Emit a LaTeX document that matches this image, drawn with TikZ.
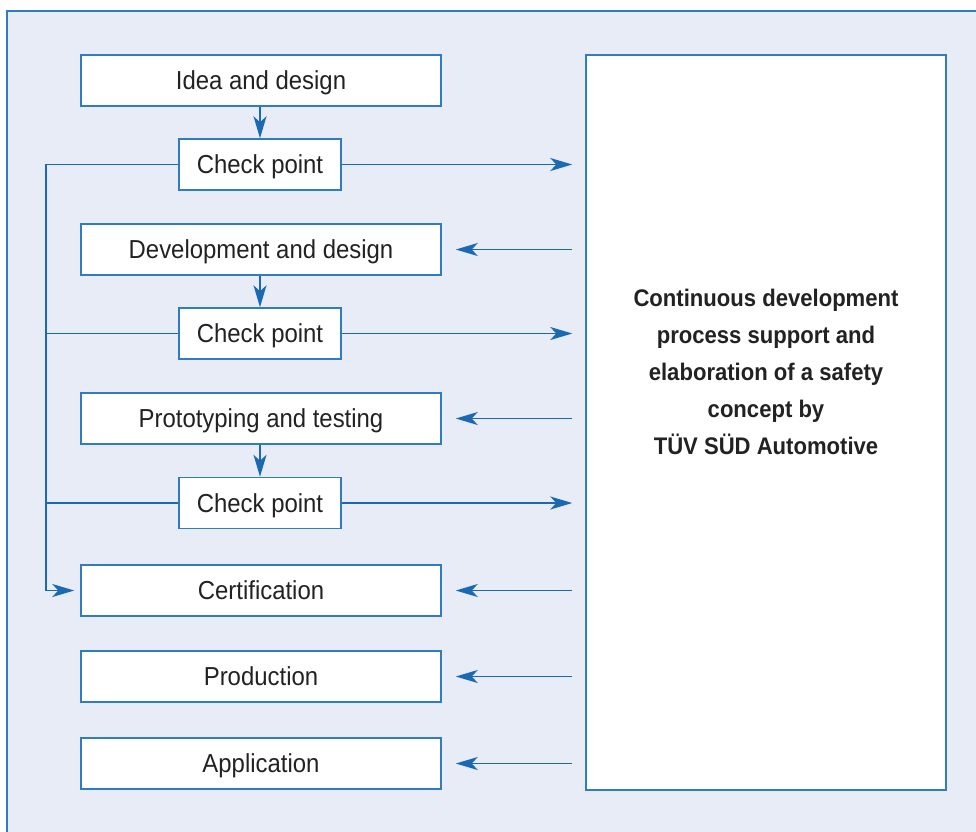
\documentclass[tikz,border=0pt]{standalone}
\usepackage{fontspec}
\setmainfont{Liberation Sans}[FakeStretch=0.92]
\usetikzlibrary{arrows.meta}
\definecolor{bgblue}{HTML}{E8ECF7}
\definecolor{lineblue}{HTML}{2F7DC0}
\definecolor{arrblue}{HTML}{1B68B3}
\definecolor{txt}{HTML}{222222}
\tikzset{
  stepbox/.style={draw=lineblue, line width=1.5pt, fill=white, minimum width=360pt, minimum height=51pt, inner sep=0pt, text height=18pt, text depth=0pt, font=\fontsize{26}{30}\selectfont, text=txt},
  cpbox/.style={stepbox, minimum width=162pt},
  conn/.style={draw=arrblue, line width=1.5pt},
  arr/.style={conn, -{Stealth[length=22pt, width=13pt, inset=6pt]}},
}
\begin{document}
\begin{tikzpicture}[x=1pt,y=-1pt]
\useasboundingbox (0,0) rectangle (976,831);
\clip (0,0) rectangle (976,831);
\draw[draw=lineblue, line width=1.5pt, fill=bgblue] (7,11) rectangle (1000,860);
\node[stepbox] (idea) at (261,80.5) {Idea and design};
\node[cpbox] (cp1) at (260,164.5) {Check point};
\node[stepbox] (dev) at (261,249.5) {Development and design};
\node[cpbox] (cp2) at (260,333.5) {Check point};
\node[stepbox] (proto) at (261,418.5) {Prototyping and testing};
\node[cpbox] (cp3) at (260,503) {Check point};
\node[stepbox] (cert) at (261,590.5) {Certification};
\node[stepbox] (prod) at (261,676.5) {Production};
\node[stepbox] (app) at (261,763.5) {Application};
\node[draw=lineblue, line width=1.5pt, fill=white, minimum width=360pt, minimum height=735pt, inner sep=0pt] (big) at (766,422.5) {};
\node[text=txt, align=center, inner sep=0pt, font=\bfseries\fontsize{24}{37}\selectfont] (bigtxt) at (766,372) {Continuous development\\process support and\\elaboration of a safety\\concept by\\TÜV SÜD Automotive};
\coordinate (left) at (46,0);
% down arrows
\draw[arr] (idea.south -| cp1) -- (cp1.north);
\draw[arr] (dev.south -| cp2) -- (cp2.north);
\draw[arr] (proto.south -| cp3) -- (cp3.north);
% to big box
\draw[arr, shorten >=13pt] (cp1.east) -- (big.west |- cp1);
\draw[arr, shorten >=13pt] (cp2.east) -- (big.west |- cp2);
\draw[arr, shorten >=13pt] (cp3.east) -- (big.west |- cp3);
% from big box
\foreach \n in {dev,proto,cert,prod,app}
  \draw[arr, shorten <=13pt, shorten >=14pt] (big.west |- \n) -- (\n.east);
% left loop
\draw[arr, shorten >=6pt] (cp1.west) -- (left |- cp1) -- (left |- cert) -- (cert.west);
\draw[conn] (cp2.west) -- (left |- cp2);
\draw[conn] (cp3.west) -- (left |- cp3);
\end{tikzpicture}
\end{document}
